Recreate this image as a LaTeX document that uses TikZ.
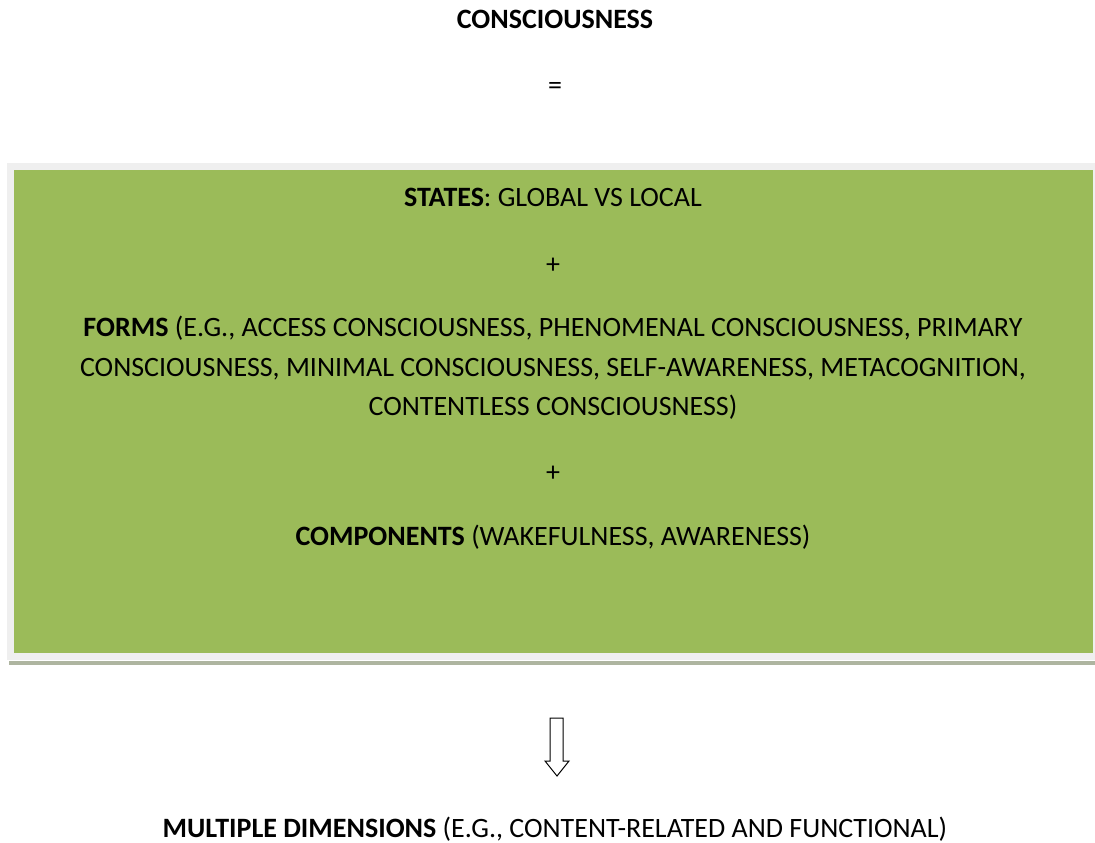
\documentclass[tikz,border=0pt]{standalone}
\usepackage{fontspec}
\setmainfont{Carlito}
\definecolor{boxgreen}{HTML}{9BBB59}
\definecolor{framegray}{HTML}{EFEFEF}
\definecolor{shadowline}{HTML}{AEB5A0}
\begin{document}
\begin{tikzpicture}[x=1pt,y=-1pt,
  txt/.style={font=\fontsize{28}{40}\selectfont, inner sep=0pt, anchor=base},
  hollowarrow/.style={draw=black, line width=1pt, fill=white}]
\useasboundingbox (0,0) rectangle (1095,843);
% frame and green panel
\fill[framegray] (7,163) rectangle (1095,660);
\fill[shadowline] (9,661) rectangle (1095,665);
\fill[boxgreen] (14,170) rectangle (1093,653);
% texts
\node[txt] (title) at (555,29) {\textbf{CONSCIOUSNESS}};
\node[txt] (eq) at (555,95) {=};
\node[txt] (states) at (553,206) {\textbf{STATES}: GLOBAL VS LOCAL};
\node[txt] (plus1) at (553,273) {+};
\node[txt] (forms1) at (553,336) {\textbf{FORMS} (E.G., ACCESS CONSCIOUSNESS, PHENOMENAL CONSCIOUSNESS, PRIMARY};
\node[txt] (forms2) at (553,376) {CONSCIOUSNESS, MINIMAL CONSCIOUSNESS, SELF-AWARENESS, METACOGNITION,};
\node[txt] (forms3) at (553,415) {CONTENTLESS CONSCIOUSNESS)};
\node[txt] (plus2) at (553,481) {+};
\node[txt] (comp) at (553,545) {\textbf{COMPONENTS} (WAKEFULNESS, AWARENESS)};
\node[txt] (multi) at (555,837) {\textbf{MULTIPLE DIMENSIONS} (E.G., CONTENT-RELATED AND FUNCTIONAL)};
% hollow down arrow
\draw[hollowarrow] (550,718) -- (563,718) -- (563,761) -- (569,761) -- (557,776) -- (545,761) -- (550,761) -- cycle;
\end{tikzpicture}
\end{document}
